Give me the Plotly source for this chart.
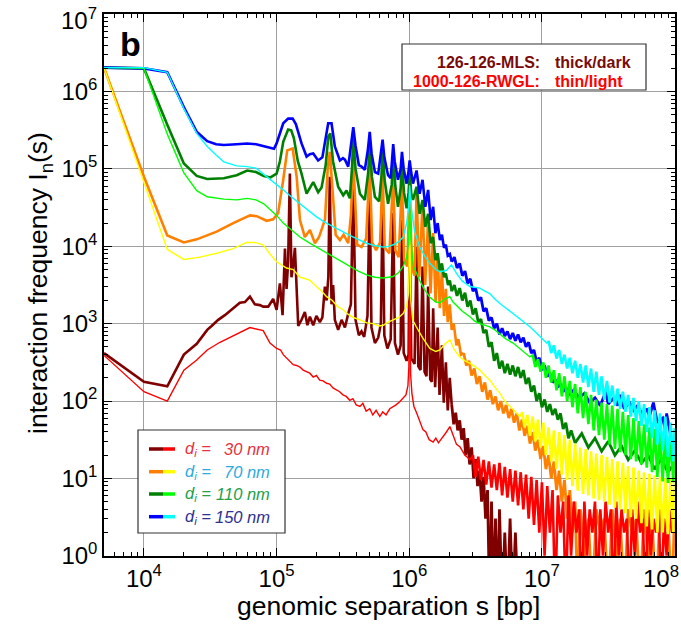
import numpy as np
import plotly.graph_objects as go

# zero counts: drawn below the axis floor (like the original, lines drop off the bottom)
Z = -0.6

# ---------------- data (log10 s [bp], log10 I) ----------------
maroon_ls = [3.699,4.000,4.176,4.301,4.398,4.477,4.510,4.560,4.610,4.660,4.723,4.761,4.799,4.836,4.874,4.899,4.937,4.974,
 5.000,5.025,5.045,5.063,5.075,5.087,5.100,5.112,5.125,5.138,5.151,5.163,5.188,5.213,5.232,5.251,5.276,5.300,5.326,5.345,
 5.364,5.377,5.390,5.401,5.414,5.426,5.439,5.464,5.490,5.515,5.540,5.560,5.578,5.595,5.620,5.640,5.660,5.685,5.702,5.715,
 5.741,5.766,5.786,5.799,5.812,5.835,5.860,5.879,5.892,5.915,5.935,5.945,5.958,5.980,5.995,6.003,6.015,6.040,6.055,6.068,
 6.085,6.100,6.115,6.130,6.142,6.158,6.170,6.180,6.195,6.214,6.228,6.246,6.260,6.276,6.290,6.305,6.320,6.335,6.350,6.365,
 6.380,6.395,6.410,6.425,6.440,6.455,6.470,6.485,6.500,6.515,6.530,6.545,6.560,6.575,6.590,6.605,6.620,6.635,6.650,6.665,
 6.680,6.700,6.720,6.740,6.760,6.780,6.800,6.820]
maroon_lI = [2.62,2.25,2.19,2.60,2.74,2.92,2.97,3.05,3.11,3.18,3.27,3.28,3.35,3.25,3.24,3.22,3.22,3.32,
 3.18,3.52,3.11,3.97,3.45,3.80,4.94,3.60,3.75,3.98,3.30,2.97,3.05,3.15,2.98,3.09,2.98,3.10,3.02,3.08,
 3.48,3.30,3.60,4.90,3.25,3.50,3.05,2.92,3.05,2.95,3.13,3.25,4.81,3.05,2.85,2.90,2.83,3.10,4.66,2.95,
 2.75,2.82,3.00,4.53,2.85,2.68,2.80,4.43,2.75,2.60,2.72,4.34,2.62,2.52,2.60,4.25,2.55,2.48,3.99,2.45,
 2.40,3.74,2.38,2.32,3.48,2.28,2.25,3.20,2.18,2.95,2.08,2.72,1.98,2.50,1.88,2.30,1.95,1.70,1.85,1.62,
 1.75,1.50,1.65,1.30,1.52,1.18,1.40,1.00,1.25,0.90,1.10,0.70,1.02,0.48,0.85,Z,0.70,Z,0.48,Z,
 0.60,Z,0.30,Z,0.48,Z,0.30,Z]

red_ls = [3.699,4.000,4.176,4.301,4.398,4.477,4.573,4.699,4.799,4.899,4.950,5.000,5.030,5.050,5.080,5.100,5.125,5.150,
 5.176,5.200,5.225,5.250,5.276,5.300,5.325,5.350,5.377,5.400,5.425,5.452,5.475,5.500,5.525,5.552,5.575,5.600,5.628,5.650,
 5.675,5.702,5.725,5.750,5.778,5.800,5.825,5.853,5.875,5.900,5.928,5.950,5.975,5.990,5.997,6.003,6.010,6.020,6.035,6.055,
 6.080,6.103,6.125,6.150,6.180,6.200,6.220,6.256,6.280,6.306,6.330,6.356,6.381,6.400,6.420,6.440,6.457,
 6.48,6.50,6.52,6.54,6.56,6.58,6.60,6.62,6.64,6.66,6.68,6.70,6.72,6.74,6.76,6.78,6.80,6.82,6.84,6.86,6.88,6.90,6.92,6.94,
 6.96,6.98,7.00,7.02,7.04,7.06,7.08,7.10,7.12,7.14,7.16,7.18,7.20,7.22,7.24,7.26,7.28,7.30,7.32,7.34,7.36,7.38,7.40,7.42,
 7.44,7.46,7.48,7.50,7.52,7.54,7.56,7.58,7.60,7.62,7.64,7.66,7.68,7.70,7.72,7.74,7.76,7.78,7.80,7.82,7.84,7.86,7.88,7.90,
 7.92,7.94,7.96,7.98,8.00]
red_lI = [2.59,2.12,2.00,2.40,2.53,2.66,2.76,2.87,2.95,2.91,2.75,2.68,2.66,2.60,2.55,2.52,2.47,2.46,
 2.44,2.40,2.38,2.36,2.31,2.33,2.27,2.26,2.23,2.22,2.17,2.14,2.12,2.08,2.06,2.01,2.03,1.95,1.93,1.97,
 1.87,1.90,1.82,1.88,1.80,1.86,1.82,1.90,1.92,1.95,1.99,2.03,2.08,2.20,2.45,4.05,2.35,2.10,1.93,1.85,
 1.72,1.63,1.60,1.50,1.47,1.52,1.46,1.54,1.60,1.67,1.55,1.44,1.41,1.36,1.30,1.27,1.24,
 1.30,1.02,1.28,0.98,1.24,0.92,1.22,0.88,1.18,0.85,1.20,0.78,1.15,0.75,1.12,0.70,1.10,0.65,1.08,0.60,1.05,0.48,1.02,0.40,
 0.98,0.30,0.95,0.00,0.90,0.30,0.85,Z,0.78,0.30,0.70,Z,0.78,0.00,0.70,0.30,0.60,Z,0.70,0.00,0.60,0.30,0.70,Z,
 0.60,0.00,0.70,0.30,0.60,Z,0.70,0.00,0.60,0.30,0.48,Z,0.60,0.00,0.70,0.30,0.48,Z,0.60,0.00,0.48,0.30,0.60,Z,
 0.48,0.00,0.60,0.30,0.48]

orange_ls = [3.699,4.000,4.176,4.301,4.398,4.548,4.673,4.799,4.850,4.925,4.974,5.012,5.050,5.080,5.121,5.151,5.176,5.213,
 5.251,5.289,5.320,5.365,5.385,5.401,5.420,5.445,5.477,5.505,5.540,5.560,5.578,5.595,5.607,5.640,5.675,5.702,5.720,5.750,
 5.780,5.799,5.815,5.850,5.879,5.895,5.920,5.945,5.962,5.985,6.003,6.020,6.040,6.055,6.075,6.100,6.120,6.142,6.160,6.180,
 6.198,6.214,6.230,6.246,6.262,6.276,6.290,6.305,6.320,6.335,6.356,6.370,6.390,
 6.41,6.43,6.45,6.47,6.49,6.51,6.53,6.55,6.57,6.59,6.61,6.63,6.65,6.67,6.69,6.71,6.73,6.75,6.77,6.79,6.81,6.83,6.85,6.87,
 6.89,6.91,6.93,6.95,6.97,6.99,7.01,7.03,7.05,7.07,7.09,7.11,7.13,7.15,7.17,7.19,7.21,7.23,7.25,7.27,7.29,7.32,7.35,7.38,
 7.41,7.44,7.47,7.50,7.53,7.56,7.59,7.62,7.65,7.68,7.71,7.74,7.77,7.80,7.83,7.86,7.89,7.92,7.95,7.98,8.00]
orange_lI = [6.31,4.90,4.14,4.05,4.09,4.19,4.30,4.40,4.39,4.33,4.35,4.43,4.86,5.24,5.265,4.90,4.34,4.12,
 4.21,4.04,4.12,4.35,5.00,5.22,4.77,4.15,4.08,4.15,4.04,4.40,5.135,4.40,4.02,3.99,4.10,5.05,4.05,3.95,
 4.05,4.96,3.98,3.91,4.90,3.95,3.86,4.83,3.82,3.74,4.77,3.72,3.62,4.73,3.60,4.55,3.50,4.34,3.39,4.17,
 3.28,3.91,3.20,3.69,3.10,3.45,3.02,3.25,2.92,3.00,2.72,2.80,2.60,
 2.62,2.46,2.52,2.33,2.42,2.22,2.32,2.12,2.24,2.02,2.14,1.96,2.06,1.88,2.00,1.84,1.95,1.78,1.90,1.72,1.84,1.62,1.76,1.55,
 1.68,1.45,1.60,1.36,1.50,1.25,1.42,1.12,1.30,1.00,1.22,0.85,1.10,0.70,0.98,0.48,0.85,0.30,0.70,Z,0.60,0.00,0.48,Z,
 0.60,0.30,0.48,Z,0.60,0.00,0.48,Z,0.60,0.30,0.48,Z,0.60,0.00,0.48,Z,0.60,0.30,0.48,Z,0.60]

yellow_ls = [3.699,4.000,4.176,4.301,4.422,4.548,4.673,4.774,4.836,4.899,4.950,5.000,5.075,5.125,5.176,5.200,5.251,5.300,
 5.340,5.377,5.420,5.460,5.502,5.540,5.580,5.628,5.680,5.728,5.770,5.804,5.840,5.879,5.920,5.954,5.980,5.995,6.003,6.012,
 6.025,6.053,6.100,6.155,6.200,6.231,6.270,6.306,6.340,6.381,6.420,6.457,6.495,6.532,6.570,6.607,6.645,6.683,6.720,6.758,
 6.795,6.833,
 6.85,6.87,6.89,6.91,6.93,6.95,6.97,6.99,7.01,7.03,7.05,7.07,7.09,7.11,7.13,7.15,7.17,7.19,7.21,7.23,7.25,7.27,7.29,7.31,
 7.33,7.35,7.37,7.39,7.41,7.43,7.45,7.47,7.49,7.51,7.53,7.55,7.57,7.59,7.61,7.63,7.65,7.67,7.69,7.71,7.73,7.75,7.77,7.79,
 7.81,7.83,7.85,7.87,7.89,7.91,7.93,7.95,7.97,7.99,8.00]
yellow_lI = [6.31,4.83,3.96,3.83,3.86,3.91,3.97,4.05,4.05,4.02,3.90,3.80,3.72,3.70,3.60,3.59,3.56,3.48,
 3.42,3.35,3.30,3.22,3.18,3.12,3.08,3.05,3.01,3.00,2.97,2.98,3.02,3.05,3.08,3.13,3.22,3.40,4.40,3.30,
 3.05,2.96,2.82,2.68,2.64,2.66,2.74,2.79,2.66,2.57,2.52,2.49,2.44,2.40,2.33,2.27,2.18,2.10,2.00,1.93,
 1.86,1.80,
 1.86,1.66,1.82,1.55,1.80,1.48,1.76,1.40,1.72,1.30,1.66,1.22,1.62,1.12,1.60,1.05,1.56,0.98,1.50,0.90,1.45,0.84,1.40,0.80,
 1.38,0.78,1.35,0.74,1.32,0.72,1.30,0.70,1.28,0.66,1.25,0.62,1.22,0.60,1.20,0.55,1.16,0.50,1.14,0.48,1.10,0.42,1.08,0.38,
 1.06,0.34,1.04,0.30,1.02,0.30,1.00,0.28,1.00,0.30,0.95]

green_ls = [3.699,4.000,4.176,4.301,4.398,4.477,4.602,4.699,4.778,4.845,4.903,4.954,5.000,5.025,5.050,5.087,5.110,5.130,
 5.160,5.188,5.226,5.276,5.313,5.339,5.370,5.390,5.405,5.425,5.464,5.502,5.527,5.552,5.568,5.578,5.595,5.628,5.665,5.690,
 5.702,5.718,5.741,5.773,5.790,5.799,5.815,5.840,5.868,5.879,5.895,5.915,5.935,5.945,5.960,5.980,5.995,6.003,6.015,6.028,
 6.055,6.078,6.100,6.121,6.142,6.161,6.180,6.197,6.214,6.230,6.246,6.262,6.276,6.292,6.306,
 6.32,6.34,6.36,6.38,6.40,6.42,6.44,6.46,6.48,6.50,6.52,6.54,6.56,6.58,6.60,6.62,6.64,6.66,6.68,6.70,6.72,6.74,6.76,6.78,
 6.80,6.82,6.84,6.86,6.88,6.90,6.92,6.94,6.96,6.98,7.00,7.02,7.04,7.06,7.08,7.10,7.12,7.14,7.16,7.18,7.20,7.22,7.25,7.30,
 7.35,7.40,7.45,7.50,7.55,7.60,7.65,7.70,7.75,7.80,7.85,7.90,7.95,8.00]
green_lI = [6.31,6.30,5.57,5.07,4.91,4.87,4.88,4.92,4.98,4.96,4.91,4.89,4.94,5.10,5.35,5.51,5.50,5.40,
 5.10,4.94,4.68,4.83,4.70,4.76,5.05,5.42,5.46,5.10,4.77,4.66,4.72,4.62,5.00,5.39,5.00,4.68,4.60,4.95,
 5.33,4.90,4.64,4.58,4.90,5.22,4.85,4.55,4.80,5.18,4.78,4.51,4.75,5.09,4.70,4.49,4.70,4.95,4.68,4.60,
 4.77,4.42,4.60,4.25,4.42,4.04,4.12,3.82,3.91,3.69,3.78,3.60,3.65,3.50,3.56,
 3.42,3.50,3.36,3.46,3.30,3.40,3.22,3.30,3.12,3.20,3.02,3.06,2.88,2.92,2.70,2.76,2.52,2.62,2.42,2.52,2.36,2.48,2.34,2.46,
 2.32,2.44,2.30,2.40,2.22,2.30,2.12,2.20,2.00,2.10,1.92,2.02,1.86,1.96,1.82,1.90,1.76,1.84,1.64,1.72,1.52,1.62,1.46,1.58,
 1.40,1.52,1.35,1.48,1.30,1.42,1.24,1.36,1.20,1.30,1.12,1.25,1.08,1.20]

lime_ls = [3.699,4.000,4.176,4.301,4.398,4.477,4.602,4.699,4.778,4.845,4.903,4.954,5.000,5.050,5.110,5.176,5.240,5.301,
 5.365,5.427,5.490,5.552,5.615,5.678,5.740,5.803,5.845,5.879,5.920,5.954,5.980,5.995,6.003,6.012,6.030,6.078,6.115,6.155,
 6.200,6.231,6.270,6.306,6.330,6.356,6.400,6.457,6.495,6.532,6.570,6.607,6.645,6.683,6.730,6.783,6.845,6.909,
 6.93,6.95,6.97,6.99,7.01,7.03,7.05,7.07,7.09,7.11,7.13,7.15,7.17,7.19,7.21,7.23,7.25,7.27,7.29,7.31,7.33,7.35,7.37,7.39,
 7.41,7.43,7.45,7.47,7.49,7.51,7.53,7.55,7.57,7.59,7.61,7.63,7.65,7.67,7.69,7.71,7.73,7.75,7.77,7.79,7.81,7.83,7.85,7.87,
 7.89,7.91,7.93,7.95,7.97,7.99,8.00]
lime_lI = [6.31,6.30,5.45,4.95,4.72,4.64,4.61,4.60,4.62,4.60,4.55,4.47,4.40,4.30,4.22,4.12,4.05,3.99,
 3.92,3.86,3.80,3.74,3.68,3.63,3.60,3.59,3.60,3.61,3.66,3.74,3.85,4.05,4.51,4.10,3.75,3.56,3.44,3.34,
 3.28,3.27,3.32,3.35,3.28,3.24,3.16,3.09,3.03,3.00,2.98,2.96,2.92,2.87,2.80,2.75,2.66,2.57,
 2.60,2.44,2.54,2.38,2.50,2.30,2.46,2.24,2.40,2.14,2.36,2.06,2.32,2.00,2.26,1.92,2.22,1.84,2.18,1.78,2.12,1.70,2.08,1.62,
 2.02,1.56,1.98,1.50,1.96,1.44,1.94,1.38,1.90,1.34,1.86,1.30,1.82,1.25,1.78,1.22,1.74,1.18,1.70,1.14,1.66,1.08,1.64,1.02,
 1.60,0.96,1.58,0.94,1.55,0.95,1.50]

blue_ls = [3.699,4.000,4.176,4.301,4.398,4.477,4.544,4.602,4.699,4.778,4.845,4.903,4.954,4.980,5.000,5.025,5.050,5.087,
 5.121,5.145,5.170,5.188,5.226,5.250,5.276,5.300,5.313,5.345,5.375,5.389,5.414,5.439,5.477,5.500,5.515,5.540,5.560,5.578,
 5.595,5.620,5.640,5.665,5.688,5.702,5.716,5.741,5.766,5.786,5.799,5.812,5.840,5.860,5.870,5.879,5.890,5.915,5.935,5.945,
 5.958,5.980,5.993,6.003,6.015,6.028,6.055,6.078,6.100,6.121,6.142,6.161,6.180,6.197,6.214,6.231,6.246,6.262,6.276,6.290,
 6.306,
 6.32,6.34,6.36,6.38,6.40,6.42,6.44,6.46,6.48,6.50,6.52,6.54,6.56,6.58,6.60,6.62,6.64,6.66,6.68,6.70,6.72,6.74,6.76,6.78,
 6.80,6.82,6.84,6.86,6.88,6.90,6.92,6.94,6.96,6.98,7.00,7.02,7.04,7.06,7.08,7.10,7.12,7.14,7.16,7.18,7.20,7.24,7.28,7.32,
 7.36,7.40,7.44,7.48,7.50,7.54,7.57,7.59,7.62,7.66,7.69,7.72,7.76,7.79,7.81,7.84,7.87,7.91,7.93,7.94,7.97,7.99]
blue_lI = [6.31,6.30,6.25,5.80,5.48,5.36,5.32,5.31,5.32,5.33,5.32,5.29,5.27,5.26,5.33,5.45,5.59,5.65,
 5.65,5.58,5.42,5.33,5.16,5.19,5.20,5.13,5.11,5.15,5.45,5.59,5.59,5.29,5.11,5.14,5.12,5.03,5.30,5.54,
 5.30,5.05,5.03,4.99,5.25,5.48,5.20,4.96,4.94,5.18,5.38,5.15,4.92,4.88,5.10,5.32,5.10,4.86,5.00,5.22,
 5.00,4.81,4.95,5.11,4.95,4.81,4.98,4.68,4.86,4.51,4.73,4.34,4.51,4.17,4.30,4.08,4.15,3.98,4.02,3.88,
 3.90,
 3.80,3.86,3.72,3.78,3.62,3.68,3.52,3.58,3.42,3.46,3.30,3.34,3.16,3.20,3.04,3.08,2.94,3.00,2.86,2.94,2.84,2.90,2.80,2.88,
 2.78,2.86,2.76,2.82,2.70,2.76,2.62,2.66,2.50,2.56,2.40,2.46,2.32,2.36,2.24,2.28,2.18,2.22,2.12,2.18,2.08,2.14,2.04,2.10,
 1.98,2.04,1.94,2.12,1.96,2.04,1.94,2.08,1.90,1.98,1.88,1.94,1.82,1.90,1.80,1.98,1.72,1.78,1.62,1.84,1.55,1.37]

cyan_ls = [3.699,4.000,4.176,4.301,4.398,4.477,4.544,4.602,4.699,4.778,4.845,4.903,4.954,5.000,5.050,5.110,5.176,5.240,
 5.301,5.365,5.427,5.490,5.552,5.615,5.678,5.740,5.803,5.845,5.879,5.920,5.954,5.980,5.995,6.003,6.015,6.040,6.078,6.115,
 6.155,6.200,6.231,6.281,6.318,6.356,6.400,6.457,6.495,6.532,6.570,6.607,6.645,6.683,6.730,6.783,6.845,6.909,6.970,7.035,
 7.05,7.07,7.09,7.11,7.13,7.15,7.17,7.19,7.21,7.23,7.25,7.27,7.29,7.31,7.33,7.35,7.37,7.39,7.41,7.43,7.45,7.47,7.49,7.51,
 7.53,7.55,7.57,7.59,7.61,7.63,7.65,7.67,7.69,7.71,7.73,7.75,7.77,7.79,7.81,7.83,7.85,7.87,7.89,7.91,7.93,7.95,7.97,7.99,
 8.00]
cyan_lI = [6.31,6.31,6.25,5.78,5.46,5.29,5.18,5.09,5.04,5.03,5.01,4.93,4.87,4.80,4.73,4.64,4.55,4.46,
 4.38,4.31,4.25,4.19,4.14,4.09,4.04,4.01,3.99,4.00,4.02,4.06,4.12,4.30,4.50,4.79,4.50,4.20,3.99,3.88,
 3.78,3.70,3.67,3.69,3.76,3.65,3.55,3.48,3.47,3.46,3.42,3.39,3.32,3.26,3.20,3.13,3.05,2.96,2.86,2.75,
 2.78,2.62,2.72,2.55,2.66,2.48,2.60,2.42,2.56,2.36,2.52,2.30,2.48,2.24,2.46,2.18,2.42,2.12,2.38,2.08,2.32,2.02,2.26,1.98,
 2.20,1.94,2.16,1.90,2.12,1.86,2.08,1.80,2.04,1.74,2.00,1.68,1.96,1.60,1.92,1.52,1.88,1.44,1.84,1.36,1.80,1.28,1.72,1.22,
 1.65]

x_tickvals = [1e4, 1e5, 1e6, 1e7, 1e8]
x_ticktext = ["10<sup>4</sup>", "10<sup>5</sup>", "10<sup>6</sup>", "10<sup>7</sup>", ""]  # 10^8 placed by hand below
x_last_label = "10<sup>8</sup>"
y_tickvals = [1e0, 1e1, 1e2, 1e3, 1e4, 1e5, 1e6, 1e7]
y_ticktext = ["10<sup>%d</sup>" % k for k in range(7)] + [""]  # 10^7 placed by hand below
y_last_label = "10<sup>7</sup>"
x_title = "genomic separation s [bp]"
y_title = "interaction frequency I<sub>n</sub>(s)"

legend_labels = ["30 nm", "70 nm", "110 nm", "150 nm"]
legend_dark = ["#800000", "#ff8000", "#008000", "#0000ff"]
legend_light = ["#ff0000", "#ffff00", "#00ff00", "#00ffff"]
legend_text_colors = ["#e8303a", "#2eaadc", "#22a04a", "#2e3192"]

# where the noisy (dense) tail of each series begins, in log10 s
tail_start = {"maroon": 6.32, "orange": 6.40, "green": 6.31, "blue": 6.31,
              "red": 6.47, "yellow": 6.84, "lime": 6.92, "cyan": 7.04}

# ---------------- figure ----------------
fig = go.Figure()

dark_series = [("maroon", maroon_ls, maroon_lI, "#800000"), ("orange", orange_ls, orange_lI, "#ff8000"),
               ("green", green_ls, green_lI, "#008000"), ("blue", blue_ls, blue_lI, "#0000ff")]
light_series = [("red", red_ls, red_lI, "#ff0000"), ("yellow", yellow_ls, yellow_lI, "#ffff00"),
                ("lime", lime_ls, lime_lI, "#00ff00"), ("cyan", cyan_ls, cyan_lI, "#00ffff")]

def add_series(name, ls, lI, col, w_main, w_tail):
    ls = np.array(ls); lI = np.array(lI)
    k = int(np.searchsorted(ls, tail_start[name]))
    fig.add_trace(go.Scatter(x=10 ** ls[:k + 1], y=10 ** lI[:k + 1], mode="lines",
                             line=dict(color=col, width=w_main), showlegend=False, hoverinfo="skip"))
    fig.add_trace(go.Scatter(x=10 ** ls[k:], y=10 ** lI[k:], mode="lines",
                             line=dict(color=col, width=w_tail), showlegend=False, hoverinfo="skip"))

for name, ls, lI, col in dark_series:
    add_series(name, ls, lI, col, 2.6, 2.8)
for name, ls, lI, col in light_series:
    add_series(name, ls, lI, col, 1.4, 2.6)

L, R, T, B = 104, 675, 14, 556
def xp(px):
    return (px - L) / (R - L)
def yp(py):
    return (B - py) / (B - T)

minor_x = [k * 10.0 ** n for n in range(3, 8) for k in range(2, 10)]
minor_y = [k * 10.0 ** n for n in range(0, 7) for k in range(2, 10)]

FONT = "Liberation Sans, Arial, Helvetica, sans-serif"
TICKSIZE = 24
TITLESIZE = 26.5
axis_common = dict(type="log", showline=True, linecolor="black", linewidth=1.5, mirror="allticks",
                   ticks="inside", ticklen=8, tickwidth=1.3, tickcolor="black", tickmode="array",
                   showgrid=True, gridcolor="#a0a0a0", gridwidth=1.4, zeroline=False,
                   ticklabeloverflow="allow", automargin=False,
                   tickfont=dict(family=FONT, size=TICKSIZE, color="black"))

EPS = 0.003  # tiny pad so that the edge decades keep their ticks
fig.update_layout(
    width=681, height=628,
    margin=dict(l=L, r=681 - R, t=T, b=628 - B),
    plot_bgcolor="white", paper_bgcolor="white",
    font=dict(family=FONT, color="black"),
    xaxis=dict(axis_common, range=[np.log10(5000), 8 + EPS], tickvals=x_tickvals, ticktext=x_ticktext,
               minor=dict(tickmode="array", tickvals=minor_x, ticks="inside", ticklen=4, tickwidth=1,
                          tickcolor="black", showgrid=False)),
    yaxis=dict(axis_common, range=[-EPS, 7 + EPS], tickvals=y_tickvals, ticktext=y_ticktext,
               minor=dict(tickmode="array", tickvals=minor_y, ticks="inside", ticklen=4, tickwidth=1,
                          tickcolor="black", showgrid=False)),
)

shapes = []
annotations = []
# axis titles
annotations.append(dict(xref="paper", yref="paper", x=xp(388), y=yp(606), xanchor="center", yanchor="middle",
                        text=x_title, showarrow=False, font=dict(family=FONT, size=TITLESIZE, color="black")))
annotations.append(dict(xref="paper", yref="paper", x=xp(40), y=yp(283), xanchor="center", yanchor="middle",
                        textangle=-90, text=y_title, showarrow=False,
                        font=dict(family=FONT, size=TITLESIZE, color="black")))
# edge tick labels, kept inside the figure as in the original
annotations.append(dict(xref="paper", yref="paper", x=xp(681), y=yp(560), xanchor="right", yanchor="top",
                        text=x_last_label, showarrow=False, font=dict(family=FONT, size=TICKSIZE, color="black")))
annotations.append(dict(xref="paper", yref="paper", x=xp(99), y=yp(2), xanchor="right", yanchor="top",
                        text=y_last_label, showarrow=False, font=dict(family=FONT, size=TICKSIZE, color="black")))
# panel letter
annotations.append(dict(xref="paper", yref="paper", x=xp(118), y=yp(44), xanchor="left", yanchor="middle",
                        text="<b>b</b>", showarrow=False, font=dict(family=FONT, size=34, color="black")))
# top-right box
shapes.append(dict(type="rect", xref="paper", yref="paper", x0=xp(402), x1=xp(646), y0=yp(90), y1=yp(44),
                   line=dict(color="#333333", width=1.2), fillcolor="white", layer="above"))
for text_l, text_r, col, py in [("126-126-MLS:", "thick/dark", "#7a0a0a", 62.7),
                                 ("1000-126-RWGL:", "thin/light", "#ff0000", 81.7)]:
    annotations.append(dict(xref="paper", yref="paper", x=xp(542), y=yp(py), xanchor="right", yanchor="middle",
                            text="<b>" + text_l + "</b>", showarrow=False, font=dict(family=FONT, size=16, color=col)))
    annotations.append(dict(xref="paper", yref="paper", x=xp(553), y=yp(py), xanchor="left", yanchor="middle",
                            text="<b>" + text_r + "</b>", showarrow=False, font=dict(family=FONT, size=16, color=col)))
# legend box
shapes.append(dict(type="rect", xref="paper", yref="paper", x0=xp(138), x1=xp(285), y0=yp(533), y1=yp(430),
                   line=dict(color="#333333", width=1.2), fillcolor="white", layer="above"))
rows = [449, 471.7, 494, 516.7]
for lab, dk, lt, tc, py in zip(legend_labels, legend_dark, legend_light, legend_text_colors, rows):
    shapes.append(dict(type="line", xref="paper", yref="paper", x0=xp(149), x1=xp(163), y0=yp(py), y1=yp(py),
                       line=dict(color=dk, width=3.5), layer="above"))
    shapes.append(dict(type="line", xref="paper", yref="paper", x0=xp(163), x1=xp(175), y0=yp(py), y1=yp(py),
                       line=dict(color=lt, width=3.5), layer="above"))
    annotations.append(dict(xref="paper", yref="paper", x=xp(183), y=yp(py), xanchor="left", yanchor="middle",
                            text="<i>d<sub>i</sub> =</i>", showarrow=False, font=dict(family=FONT, size=16.5, color=tc)))
    annotations.append(dict(xref="paper", yref="paper", x=xp(272), y=yp(py), xanchor="right", yanchor="middle",
                            text="<i>" + lab + "</i>", showarrow=False, font=dict(family=FONT, size=16.5, color=tc)))

fig.update_layout(shapes=shapes, annotations=annotations)
fig.write_html("out.html")
